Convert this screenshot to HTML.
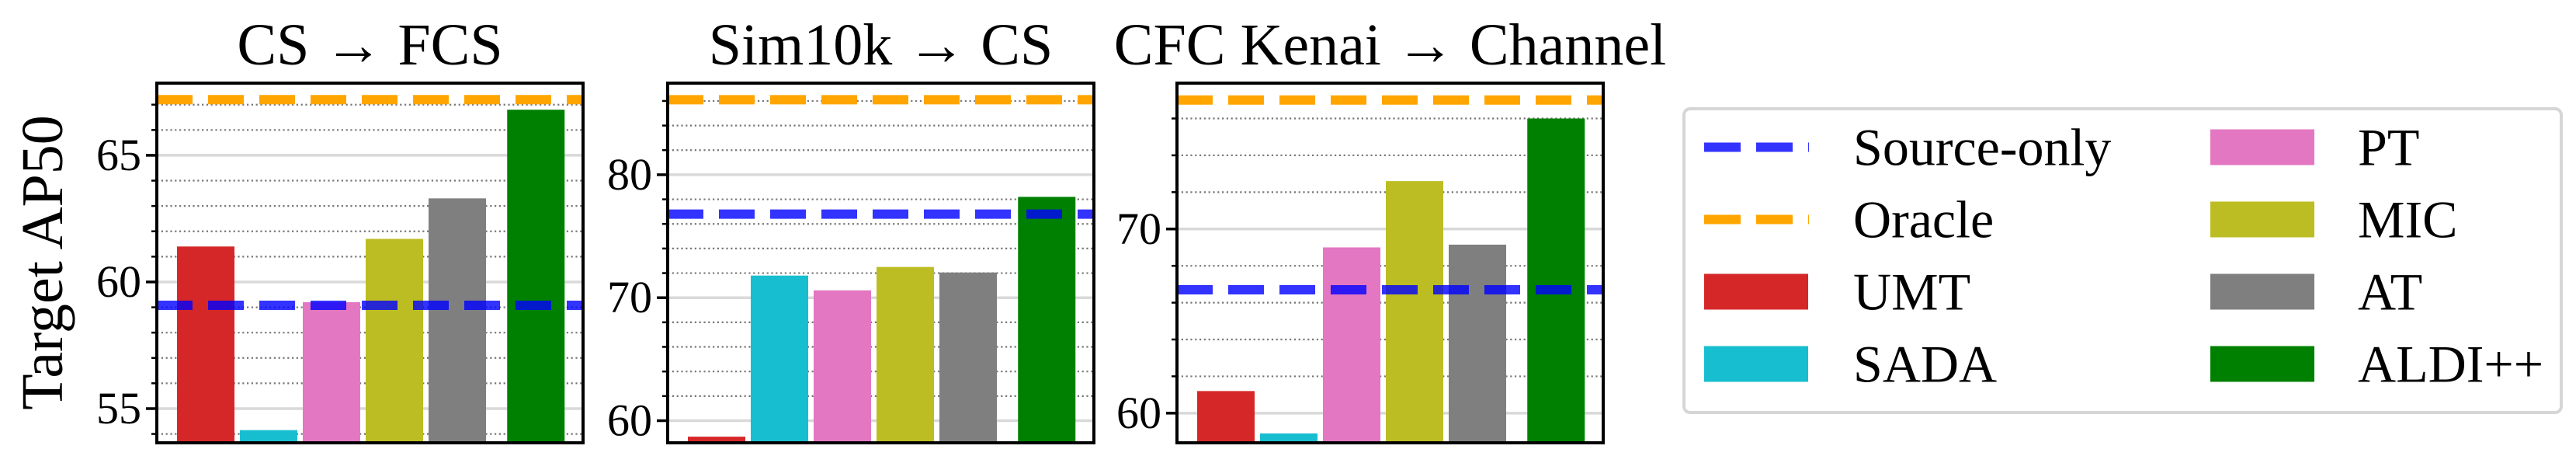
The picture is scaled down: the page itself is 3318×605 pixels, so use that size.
<!DOCTYPE html>
<html><head><meta charset="utf-8">
<style>
html,body{margin:0;padding:0;background:#fff;width:3318px;height:605px;overflow:hidden}
svg{display:block}
svg text{font-family:"Liberation Serif","DejaVu Serif","Times New Roman",serif;fill:#000}
</style></head>
<body>
<svg id="chart" width="3318" height="605" viewBox="0 0 3318 605" xmlns="http://www.w3.org/2000/svg" font-family="Liberation Serif, DejaVu Serif, serif"></svg>
<script>
const methods = ["UMT","SADA","PT","MIC","AT","ALDI++"];
const colors = ["#d62728","#17becf","#e377c2","#bcbd22","#7f7f7f","#008000"];
const slots = [0,1,2,3,4,5.25];
const titles = ["CS \u2192 FCS","Sim10k \u2192 CS","CFC Kenai \u2192 Channel"];
const valsFCS = [61.4,54.15,59.2,61.7,63.3,66.8];
const valsSim = [58.7,71.8,70.6,72.5,72.05,78.2];
const valsCFC = [61.2,58.9,69.0,72.6,69.15,76.0];
const sourceOnly = [59.08,76.8,66.7];
const oracle = [67.2,86.1,77.0];
const yMin = [53.65,58.2,58.39];
const yMax = [67.85,87.45,77.92];
const majorTicks = [[55,60,65],[60,70,80],[60,70]];
const minorStep = [1,2,2];
const allVals = [valsFCS,valsSim,valsCFC];
const axLeft = [202,860,1516];
const AXW = 549, AXT = 107, AXB = 570;
const FONT = '"Liberation Serif", "DejaVu Serif", serif';

const svg = document.getElementById('chart');
const NS = "http://www.w3.org/2000/svg";
function mk(tag, attrs, parent){
  const e = document.createElementNS(NS, tag);
  for (const k in attrs) e.setAttribute(k, attrs[k]);
  if (tag==='text') e.style.fontFamily = FONT;
  (parent||svg).appendChild(e);
  return e;
}
const defs = mk('defs',{});

for (let p=0;p<3;p++){
  const L = axLeft[p], R = L+AXW;
  const y = v => AXB - (v - yMin[p])/(yMax[p]-yMin[p])*(AXB-AXT);
  const x = s => L + 63 + s*81;
  const g = mk('g',{});
  
  
  const cp = mk('clipPath',{id:'clip'+p},defs);
  mk('rect',{x:L,y:AXT,width:AXW,height:AXB-AXT},cp);
  const inner = mk('g',{'clip-path':'url(#clip'+p+')'},g);
  const st = minorStep[p];
  for (let v=Math.ceil(yMin[p]/st)*st; v<=yMax[p]; v+=st){
    if (majorTicks[p].includes(v)) continue;
    const ln = mk('line',{x1:L,x2:R,y1:y(v),y2:y(v),stroke:'#777','stroke-width':2.2,'stroke-dasharray':'2.2 3.6'},inner);
    
    
    const tk = mk('line',{x1:L-7,x2:L,y1:y(v),y2:y(v),stroke:'#000','stroke-width':2.5},g);
    
    
  }
  majorTicks[p].forEach(v=>{
    const ln = mk('line',{x1:L,x2:R,y1:y(v),y2:y(v),stroke:'#d9d9d9','stroke-width':3.5},inner);
    
    
    const tk = mk('line',{x1:L-14,x2:L,y1:y(v),y2:y(v),stroke:'#000','stroke-width':3.5},g);
    
    
    const t = mk('text',{x:L-20,y:y(v)+19,'text-anchor':'end','font-size':58},g);
    t.textContent = v;
    
    
  });
  allVals[p].forEach((v,i)=>{
    const top = y(v);
    const b = mk('rect',{x:x(slots[i])-37,y:top,width:74,height:AXB-top,fill:colors[i]},inner);
    
    
  });
  const o = mk('line',{x1:L,x2:R,y1:y(oracle[p]),y2:y(oracle[p]),stroke:'#ffa500','stroke-width':12,'stroke-dasharray':'46 20'},inner);
  
  
  const s = mk('line',{x1:L,x2:R,y1:y(sourceOnly[p]),y2:y(sourceOnly[p]),stroke:'rgba(0,0,255,0.8)','stroke-width':12,'stroke-dasharray':'46 20'},inner);
  
  
  const fr = mk('rect',{x:L,y:AXT,width:AXW,height:AXB-AXT,fill:'none',stroke:'#000','stroke-width':4},g);
  
  
  const tt = mk('text',{x:L+AXW/2,y:83,'text-anchor':'middle','font-size':76},g);
  tt.textContent = titles[p];
  
  
}
const yl = mk('text',{x:0,y:0,'text-anchor':'middle','font-size':76,transform:'translate(80,338) rotate(-90)'});
yl.textContent = 'Target AP50';



const lg = mk('g',{});


mk('rect',{x:2169,y:140,width:1130,height:391,rx:8,fill:'#fff',stroke:'#d6d6d6','stroke-width':4},lg);
const legLabels = ["Source-only","Oracle","UMT","SADA","PT","MIC","AT","ALDI++"];
const legColors = ["rgba(0,0,255,0.8)","#ffa500"].concat(colors);
legLabels.forEach((lab,i)=>{
  const col = i<4?0:1, row = i%4;
  const px = col===0?2195:2847, tx = col===0?2387:3037;
  const cy = 189.5 + row*93;
  const e = mk('g',{},lg);
  
  
  if (i<2){
    mk('line',{x1:px,x2:px+135,y1:cy,y2:cy,stroke:legColors[i],'stroke-width':12,'stroke-dasharray':'47 20'},e);
  } else {
    mk('rect',{x:px,y:cy-23,width:134,height:46,fill:legColors[i]},e);
  }
  const t = mk('text',{x:tx,y:cy+23,'font-size':68},e);
  t.textContent = lab;
});
</script>
</body></html>
